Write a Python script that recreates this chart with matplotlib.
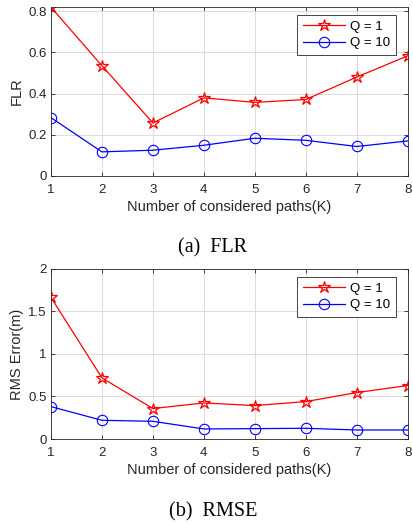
import numpy as np
import matplotlib.pyplot as plt

K = [1, 2, 3, 4, 5, 6, 7, 8]
flr_q1 = [0.819, 0.535, 0.257, 0.379, 0.357, 0.371, 0.480, 0.583]
flr_q10 = [0.283, 0.117, 0.125, 0.149, 0.183, 0.173, 0.143, 0.170]
rmse_q1 = [1.666, 0.719, 0.358, 0.424, 0.393, 0.440, 0.546, 0.629]
rmse_q10 = [0.381, 0.220, 0.208, 0.118, 0.122, 0.126, 0.106, 0.106]

plt.rcParams['font.family'] = ['Liberation Sans', 'DejaVu Sans']

fig = plt.figure(figsize=(4.14, 5.25), dpi=100)
ax1 = fig.add_axes([0.123, 0.6648, 0.862, 0.322])
ax2 = fig.add_axes([0.123, 0.1638, 0.862, 0.324])


def style(ax, q1, q10, ylabel, ylim, yticks, yticklabels):
    ax.plot(K, q1, color='red', lw=0.9, marker='*', ms=9, mfc='none',
            mec='red', mew=0.9, label='Q = 1')
    ax.plot(K, q10, color='blue', lw=0.9, marker='o', ms=7.5, mfc='none',
            mec='blue', mew=0.8, label='Q = 10')
    ax.set_xlim(1, 8)
    ax.set_ylim(*ylim)
    ax.set_xticks(K)
    ax.set_yticks(yticks)
    ax.set_yticklabels(yticklabels)
    ax.grid(True, color='#dcdcdc', lw=0.7)
    ax.set_axisbelow(True)
    ax.tick_params(direction='in', top=True, right=True, labelsize=9.5,
                   length=3, width=0.6, colors='#262626', pad=3)
    ax.tick_params(axis='x', pad=5.5)
    for s in ax.spines.values():
        s.set_linewidth(0.6)
        s.set_color('#262626')
    ax.set_xlabel('Number of considered paths(K)', fontsize=10.5,
                  color='#262626', labelpad=3)
    ax.set_ylabel(ylabel, fontsize=10.5, color='#262626', labelpad=3)
    leg = ax.legend(loc='upper right', fontsize=9.5, frameon=True,
                    fancybox=False, edgecolor='#262626', framealpha=1,
                    handlelength=3.2, handletextpad=0.4, borderpad=0.45,
                    labelspacing=0.3, borderaxespad=0,
                    bbox_to_anchor=(0.968, 0.953))
    leg.get_frame().set_linewidth(0.6)


style(ax1, flr_q1, flr_q10, 'FLR', (0, 0.82), [0, 0.2, 0.4, 0.6, 0.8],
      ['0', '0.2', '0.4', '0.6', '0.8'])
style(ax2, rmse_q1, rmse_q10, 'RMS Error(m)', (0, 2), [0, 0.5, 1, 1.5, 2],
      ['0', '0.5', '1', '1.5', '2'])

fig.text(212.5 / 414, 1 - 248 / 525, '(a)  FLR', ha='center', va='center',
         fontsize=14.5, family='Liberation Serif')
fig.text(213.5 / 414, 1 - 512 / 525, '(b)  RMSE', ha='center', va='center',
         fontsize=14.5, family='Liberation Serif')

fig.savefig('out.png', dpi=100)
